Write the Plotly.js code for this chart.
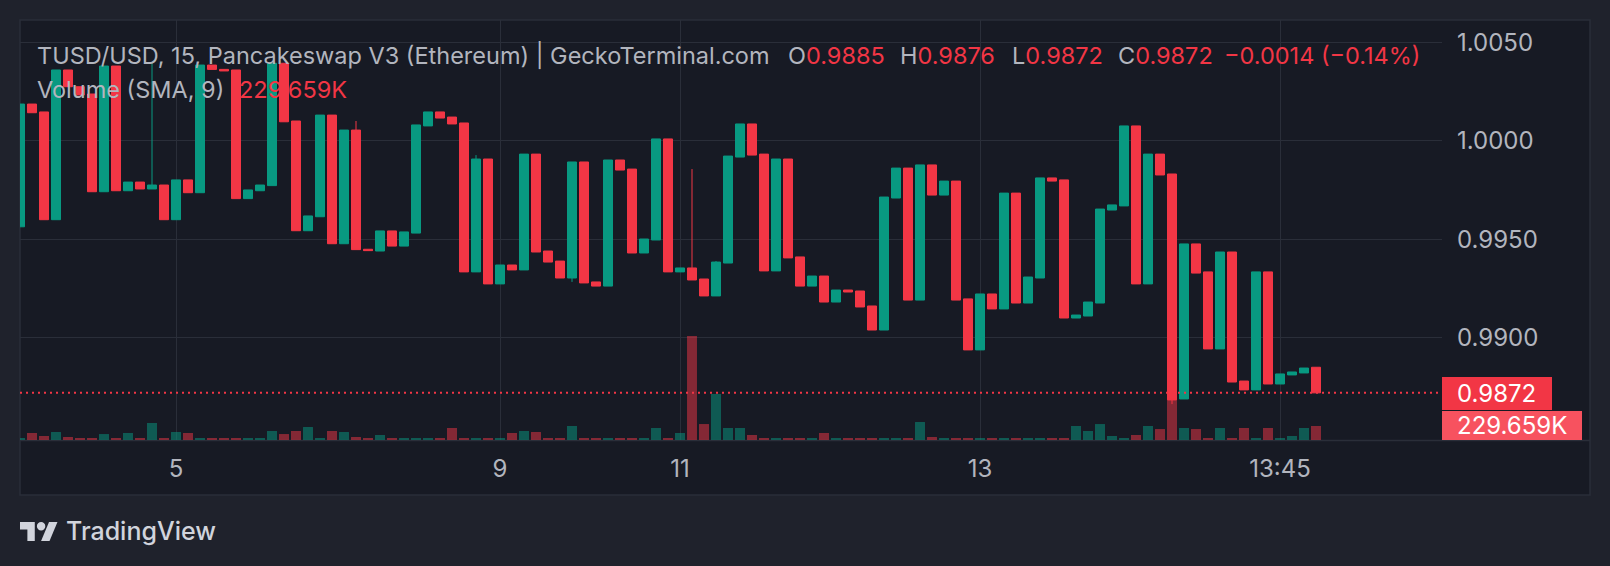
<!DOCTYPE html>
<html><head><meta charset="utf-8">
<script src="https://cdn.plot.ly/plotly-3.0.1.min.js"></script>
<style>html,body{margin:0;padding:0;background:#1f222c;}#chart{width:1610px;height:566px;}</style>
</head><body><div id="chart"></div>
<script>
// ---- data (15-minute candles, TUSD/USD) ----
const opens = [0.99563,1.00186,1.00146,0.99599,1.00359,1.00274,1.00237,0.99741,1.00379,0.99746,
0.99790,0.99755,0.99775,0.99599,0.99801,0.99736,1.00384,1.00362,1.00359,0.99706,
0.99746,0.99772,1.00393,1.00100,0.99543,0.99614,1.00130,0.99477,1.00054,0.99449,
0.99440,0.99542,0.99465,0.99531,1.00075,1.00146,1.00120,1.00090,0.99334,0.99907,
0.99273,0.99369,0.99344,0.99932,0.99440,0.99389,0.99303,0.99892,0.99283,0.99262,
0.99902,0.99856,0.99430,0.99496,1.00009,0.99334,0.99354,0.99298,0.99212,0.99379,
0.99917,1.00085,0.99932,0.99339,0.99907,0.99410,0.99262,0.99313,0.99181,0.99242,
0.99237,0.99161,0.99039,0.99709,0.99861,0.99191,0.99877,0.99724,0.99795,0.99197,
0.98938,0.99222,0.99146,0.99734,0.99176,0.99303,0.99811,0.99801,0.99100,0.99110,
0.99176,0.99648,0.99669,1.00075,0.99273,0.99932,0.99831,0.98689,0.99476,0.99334,
0.98943,0.99435,0.98780,0.98735,0.99334,0.98765,0.98811,0.98821,0.98850];
const highs = [1.00186,1.00186,1.00146,1.00359,1.00359,1.00274,1.00237,1.00379,1.00379,0.99790,
0.99790,1.00393,0.99775,0.99801,0.99801,1.00384,1.00384,1.00362,1.00359,0.99750,
0.99775,1.00393,1.00393,1.00100,0.99618,1.00130,1.00130,1.00054,1.00100,0.99449,
0.99542,0.99542,0.99537,1.00080,1.00146,1.00146,1.00120,1.00090,0.99927,0.99907,
0.99369,0.99369,0.99932,0.99932,0.99440,0.99389,0.99892,0.99892,0.99283,0.99902,
0.99902,0.99856,0.99501,1.00009,1.00009,0.99354,0.99856,0.99298,0.99389,0.99922,
1.00085,1.00085,0.99932,0.99907,0.99907,0.99410,0.99313,0.99313,0.99242,0.99242,
0.99237,0.99161,0.99714,0.99861,0.99861,0.99877,0.99877,0.99795,0.99795,0.99197,
0.99222,0.99222,0.99734,0.99734,0.99308,0.99811,0.99811,0.99801,0.99115,0.99181,
0.99653,0.99674,1.00075,1.00075,0.99932,0.99932,0.99831,0.99476,0.99476,0.99334,
0.99435,0.99435,0.98780,0.99334,0.99334,0.98816,0.98826,0.98846,0.98850];
const lows = [0.99563,1.00142,0.99599,0.99599,1.00274,1.00232,0.99741,0.99741,0.99746,0.99746,
0.99755,0.99755,0.99599,0.99599,0.99736,0.99736,1.00362,1.00354,0.99706,0.99706,
0.99746,0.99772,1.00096,0.99543,0.99543,0.99614,0.99477,0.99477,0.99447,0.99442,
0.99440,0.99465,0.99465,0.99531,1.00075,1.00115,1.00085,0.99334,0.99334,0.99273,
0.99273,0.99344,0.99344,0.99435,0.99384,0.99303,0.99283,0.99278,0.99262,0.99262,
0.99851,0.99430,0.99430,0.99496,0.99334,0.99334,0.99293,0.99212,0.99212,0.99379,
0.99917,0.99927,0.99339,0.99339,0.99405,0.99262,0.99262,0.99181,0.99181,0.99232,
0.99156,0.99039,0.99039,0.99709,0.99191,0.99191,0.99724,0.99724,0.99191,0.98938,
0.98938,0.99146,0.99146,0.99176,0.99176,0.99303,0.99795,0.99100,0.99100,0.99110,
0.99176,0.99648,0.99669,0.99273,0.99273,0.99826,0.98663,0.98689,0.99328,0.98943,
0.98943,0.98775,0.98735,0.98735,0.98765,0.98765,0.98811,0.98821,0.98720];
const closes = [1.00186,1.00142,0.99599,1.00359,1.00274,1.00232,0.99741,1.00379,0.99746,0.99790,
0.99755,0.99775,0.99599,0.99801,0.99736,1.00384,1.00362,1.00354,0.99706,0.99750,
0.99775,1.00393,1.00096,0.99543,0.99618,1.00130,0.99477,1.00054,0.99447,0.99442,
0.99542,0.99465,0.99537,1.00080,1.00146,1.00115,1.00085,0.99334,0.99907,0.99273,
0.99369,0.99344,0.99932,0.99435,0.99384,0.99303,0.99892,0.99278,0.99262,0.99902,
0.99851,0.99430,0.99501,1.00009,0.99334,0.99354,0.99293,0.99212,0.99384,0.99922,
1.00085,0.99927,0.99339,0.99907,0.99405,0.99262,0.99313,0.99181,0.99242,0.99232,
0.99156,0.99039,0.99714,0.99861,0.99191,0.99877,0.99724,0.99795,0.99191,0.98938,
0.99222,0.99146,0.99734,0.99176,0.99308,0.99811,0.99795,0.99100,0.99115,0.99181,
0.99653,0.99674,1.00075,0.99273,0.99932,0.99826,0.98684,0.99476,0.99328,0.98943,
0.99435,0.98775,0.98735,0.99334,0.98765,0.98816,0.98826,0.98846,0.98720];
const volumes = [33000,115000,66000,131000,49000,33000,33000,98000,33000,115000,
33000,279000,33000,131000,115000,33000,33000,33000,33000,33000,
33000,148000,98000,148000,213000,33000,148000,131000,49000,33000,
82000,33000,33000,33000,33000,33000,197000,33000,33000,33000,
33000,115000,148000,131000,33000,33000,230000,33000,33000,33000,
33000,33000,33000,197000,33000,115000,1706000,262000,755000,197000,
197000,82000,33000,33000,33000,33000,33000,115000,33000,33000,
33000,33000,33000,33000,33000,295000,49000,33000,33000,33000,
33000,33000,33000,33000,33000,33000,33000,33000,230000,148000,
262000,66000,33000,82000,230000,180000,656000,197000,180000,33000,
197000,33000,197000,33000,197000,33000,66000,197000,229659];
const tickIndex = [13, 40, 55, 80, 105];
const tickLabels = ['5', '9', '11', '13', '13:45'];
const priceTicks = [0.9900, 0.9950, 1.0000, 1.0050];
const headerTitle = 'TUSD/USD, 15, Pancakeswap V3 (Ethereum) | GeckoTerminal.com';
const headerOHLC = [['O','0.9885'],['H','0.9876'],['L','0.9872'],['C','0.9872']];
const headerChange = '\u22120.0014 (\u22120.14%)';
const volumeLegend = 'Volume (SMA, 9)';
const volumeLast = '229.659K';
const priceLast = '0.9872';

// ---- styling ----
const GREEN = '#089981', RED = '#f23645';
const GRID = '#2a2e39', TXT = '#b2b5be', FONT = 'Inter, Roboto, sans-serif';
const L = 20, T = 20, PW = 1422, PH = 420;
const HS = 23.5, AS = 24;
const px = x => (x - L) / PW;
const py = y => (T + PH - y) / PH;
const idx = opens.map((_, i) => i);

const volColors = opens.map((o, i) => closes[i] >= o ? 'rgba(8,153,129,0.5)' : 'rgba(242,54,69,0.5)');

const traces = [
  {type: 'bar', x: idx, y: volumes, width: 0.83, marker: {color: volColors, line: {width: 0}},
   xaxis: 'x', yaxis: 'y', hoverinfo: 'skip', showlegend: false},
  {type: 'candlestick', x: idx, open: opens, high: highs, low: lows, close: closes,
   xaxis: 'x', yaxis: 'y2', whiskerwidth: 0, showlegend: false, hoverinfo: 'skip',
   increasing: {line: {color: GREEN, width: 1}, fillcolor: GREEN},
   decreasing: {line: {color: RED, width: 1}, fillcolor: RED}}
];

function ann(x, y, text, size, color, extra) {
  return Object.assign({xref: 'paper', yref: 'paper', x: px(x), y: py(y), text: text,
    showarrow: false, xanchor: 'left', yanchor: 'middle',
    font: {family: FONT, size: size, color: color}}, extra || {});
}
const annotations = [];
annotations.push(ann(35, 55, headerTitle, HS, TXT));
const ohlcX = [786, 898, 1010, 1116];
headerOHLC.forEach((p, i) => annotations.push(ann(ohlcX[i], 55,
  p[0] + '<span style="color:' + RED + '">' + p[1] + '</span>', HS, TXT)));
annotations.push(ann(1222, 55, headerChange, HS, RED));
annotations.push(ann(35, 90, volumeLegend, HS, TXT));
annotations.push(ann(237, 90, volumeLast, HS, RED));
annotations.push(ann(1455, 393.5, priceLast, AS, '#ffffff'));
annotations.push(ann(1455, 425.5, volumeLast, AS, '#ffffff'));
annotations.push(ann(64, 531, 'TradingView', 25, '#d1d4dc', {font: {family: FONT, size: 25, color: '#d1d4dc', weight: 500}}));

// TradingView logo path (pixel coords -> paper)
function pathFrom(pts) {
  return 'M' + pts.map(p => px(p[0]) + ',' + py(p[1])).join('L') + 'Z';
}
const s = 1.055, ox = 20, oy = 517.8;
const P = (u, v) => [ox + u * s, oy + v * s];
const logoT = pathFrom([P(0,4), P(14,4), P(14,22), P(7,22), P(7,11), P(0,11)]);
const logoS = pathFrom([P(20,22), P(27.5,4), P(35.5,4), P(28,22)]);
const cx = P(20, 8);

const shapes = [
  {type: 'rect', xref: 'paper', yref: 'paper', x0: px(20), x1: px(1590), y0: py(495), y1: py(20),
   fillcolor: '#171a24', line: {color: GRID, width: 1.5}, layer: 'below'},
  {type: 'line', xref: 'paper', yref: 'paper', x0: px(20), x1: px(1590), y0: py(440.5), y1: py(440.5),
   line: {color: GRID, width: 1.5}, layer: 'below'},
  {type: 'line', xref: 'paper', yref: 'y2', x0: 0, x1: 1, y0: closes[closes.length - 1], y1: closes[closes.length - 1],
   line: {color: RED, width: 2, dash: '2px,4px'}, layer: 'above'},
  {type: 'rect', xref: 'paper', yref: 'paper', x0: px(1442), x1: px(1552), y0: py(410), y1: py(377),
   fillcolor: RED, line: {width: 0}, layer: 'above'},
  {type: 'rect', xref: 'paper', yref: 'paper', x0: px(1442), x1: px(1582), y0: py(440), y1: py(411),
   fillcolor: '#f7525f', line: {width: 0}, layer: 'above'},
  {type: 'path', xref: 'paper', yref: 'paper', path: logoT, fillcolor: '#d1d4dc', line: {width: 0}},
  {type: 'path', xref: 'paper', yref: 'paper', path: logoS, fillcolor: '#d1d4dc', line: {width: 0}},
  {type: 'circle', xref: 'paper', yref: 'paper', x0: px(cx[0] - 4 * s), x1: px(cx[0] + 4 * s),
   y0: py(cx[1] + 4 * s), y1: py(cx[1] - 4 * s), fillcolor: '#d1d4dc', line: {width: 0}}
];

const layout = {
  width: 1610, height: 566, autosize: false,
  margin: {l: L, r: 1610 - L - PW, t: T, b: 566 - T - PH, pad: 0},
  paper_bgcolor: '#1f222c', plot_bgcolor: '#171a24',
  showlegend: false, dragmode: false, hovermode: false,
  boxmode: 'overlay', boxgap: 0.25, boxgroupgap: 0,
  font: {family: FONT, color: TXT},
  xaxis: {range: [0, 118.5], tickmode: 'array', tickvals: tickIndex, ticktext: tickLabels,
    showgrid: true, gridcolor: GRID, gridwidth: 1, zeroline: false, showline: false, ticks: '',
    ticklabelstandoff: 12, tickfont: {family: FONT, size: AS, color: TXT},
    rangeslider: {visible: false}, fixedrange: true},
  yaxis: {range: [0, 6889700], visible: false, fixedrange: true},
  yaxis2: {overlaying: 'y', side: 'right', range: [0.984807, 1.006127], tickmode: 'array',
    tickvals: priceTicks, tickformat: '.4f', showgrid: true, gridcolor: GRID, gridwidth: 1,
    zeroline: false, showline: false, ticks: '', ticklabelstandoff: 14,
    tickfont: {family: FONT, size: AS, color: TXT}, fixedrange: true},
  annotations: annotations,
  shapes: shapes
};

Plotly.newPlot('chart', traces, layout, {staticPlot: true, displayModeBar: false});
</script>
</body></html>
